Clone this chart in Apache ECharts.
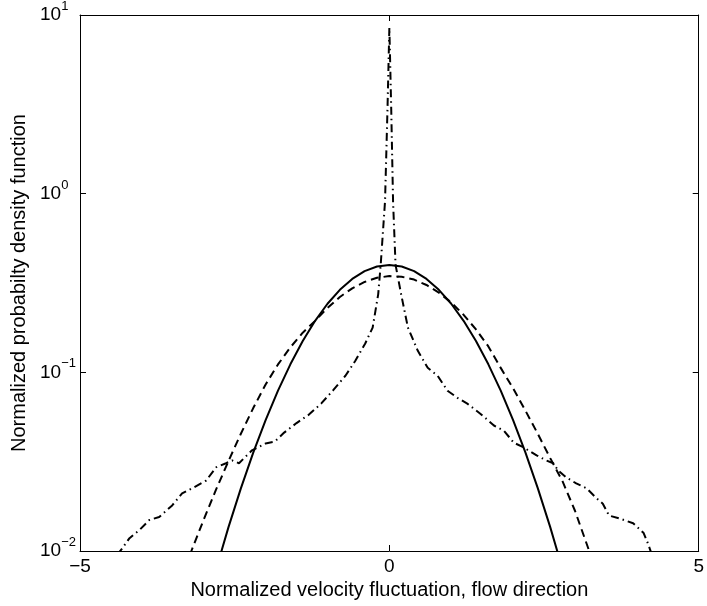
<!DOCTYPE html>
<html>
<head>
<meta charset="utf-8">
<script src="https://cdn.jsdelivr.net/npm/echarts@6/dist/echarts.min.js"></script>
<style>
html,body{margin:0;padding:0;background:#fff;}
#chart{width:707px;height:606px;}
</style>
</head>
<body>
<div id="chart"></div>
<script>
// Solid curve (Gaussian reference)
const solidX = [-2.8,-2.6,-2.4,-2.2,-2.0,-1.8,-1.6,-1.4,-1.2,-1.0,-0.8,-0.6,-0.4,-0.2,0.0,0.2,0.4,0.6,0.8,1.0,1.2,1.4,1.6,1.8,2.0,2.2,2.4,2.6,2.8];
const solidY = [0.0079,0.0136,0.0224,0.0355,0.0540,0.0790,0.1109,0.1497,0.1942,0.2420,0.2897,0.3332,0.3683,0.3910,0.3989,0.3910,0.3683,0.3332,0.2897,0.2420,0.1942,0.1497,0.1109,0.0790,0.0540,0.0355,0.0224,0.0136,0.0079];

// Dashed curve
const dashX = [-3.3,-3.2,-3.0,-2.8,-2.6,-2.4,-2.2,-2.0,-1.8,-1.6,-1.4,-1.2,-1.0,-0.8,-0.6,-0.4,-0.2,0.0,0.2,0.4,0.6,0.8,1.0,1.2,1.4,1.6,1.8,2.0,2.2,2.4,2.6,2.8,3.0,3.2,3.3];
const dashY = [0.0081,0.0100,0.0150,0.0221,0.0319,0.0453,0.0631,0.0855,0.1107,0.1380,0.1667,0.1941,0.2291,0.2642,0.2951,0.3206,0.3381,0.3459,0.3428,0.3304,0.3083,0.2793,0.2460,0.2099,0.1738,0.1396,0.1059,0.0813,0.0610,0.0452,0.0331,0.0245,0.0168,0.0107,0.0085];

// Dash-dot curve (measured, peaked)
const dotX = [-4.40,-4.33,-4.20,-4.04,-3.88,-3.72,-3.51,-3.35,-3.27,-3.18,-2.96,-2.80,-2.64,-2.54,-2.43,-2.22,-2.00,-1.85,-1.70,-1.50,-1.30,-1.10,-0.90,-0.71,-0.55,-0.39,-0.27,-0.18,-0.14,-0.07,-0.03,0.00,0.03,0.06,0.10,0.19,0.30,0.46,0.62,0.78,0.94,1.10,1.26,1.47,1.69,1.85,2.01,2.17,2.38,2.54,2.65,2.73,2.86,3.02,3.19,3.35,3.45,3.55,3.72,3.94,4.11,4.18,4.24];
const dotY = [0.0095,0.0102,0.0118,0.0131,0.0149,0.0155,0.0180,0.0210,0.0217,0.0225,0.0248,0.0294,0.0310,0.0321,0.0310,0.0366,0.0400,0.0410,0.0460,0.0520,0.0580,0.0670,0.0800,0.0957,0.1160,0.1450,0.1780,0.2740,0.4000,0.9060,3.0000,8.5000,3.0000,0.9000,0.4000,0.2740,0.1780,0.1320,0.1060,0.0957,0.0789,0.0720,0.0668,0.0587,0.0504,0.0472,0.0404,0.0380,0.0343,0.0321,0.0310,0.0282,0.0258,0.0239,0.0224,0.0197,0.0184,0.0158,0.0152,0.0143,0.0126,0.0110,0.0096];

const xTicks = [-5, 0, 5];
const yTicks = [0.01, 0.1, 1, 10];

const xLabel = 'Normalized velocity fluctuation, flow direction';
const yLabel = 'Normalized probabilty density function';

function zip(a, b) { return a.map((v, i) => [v, b[i]]); }

const FONT = '"Liberation Sans", Arial, Helvetica, sans-serif';

const chart = echarts.init(document.getElementById('chart'), null, {renderer: 'canvas'});

const axisLineStyle = {show: true, onZero: false, lineStyle: {color: '#000', width: 1}};
const tickStyle = {show: true, inside: true, length: 6, lineStyle: {color: '#000', width: 1}};

chart.setOption({
  animation: false,
  backgroundColor: '#fff',
  grid: {left: 80, right: 4, top: 13, bottom: 55, containLabel: false},
  xAxis: [{
    type: 'value', min: xTicks[0], max: xTicks[xTicks.length - 1], interval: 5,
    position: 'bottom',
    axisLine: axisLineStyle, axisTick: tickStyle, splitLine: {show: false},
    axisLabel: {
      color: '#000', fontSize: 19, fontFamily: FONT, margin: 6,
      formatter: v => (v < 0 ? '\u2212' + Math.abs(v) : String(v))
    },
    name: xLabel, nameLocation: 'middle', nameGap: 25,
    nameTextStyle: {color: '#000', fontSize: 20, fontFamily: FONT}
  }, {
    type: 'value', min: -5, max: 5, interval: 5, position: 'top',
    axisLine: axisLineStyle, axisTick: tickStyle, splitLine: {show: false},
    axisLabel: {show: false}
  }],
  yAxis: [{
    type: 'log', logBase: 10, min: yTicks[0], max: yTicks[yTicks.length - 1],
    position: 'left',
    axisLine: axisLineStyle, axisTick: tickStyle, splitLine: {show: false},
    minorTick: {show: false},
    axisLabel: {
      color: '#000', fontFamily: FONT, align: 'left', margin: 40,
      formatter: v => {
        const e = Math.round(Math.log10(v));
        return '{b|10}{s|' + (e < 0 ? '\u2212' + (-e) : e) + '}';
      },
      rich: {
        b: {fontSize: 19, fontFamily: FONT, color: '#000', lineHeight: 30, verticalAlign: 'middle'},
        s: {fontSize: 13, fontFamily: FONT, color: '#000', lineHeight: 13, verticalAlign: 'top'}
      }
    },
    name: yLabel, nameLocation: 'middle', nameGap: 48, nameRotate: 90,
    nameTextStyle: {color: '#000', fontSize: 20, fontFamily: FONT}
  }, {
    type: 'log', logBase: 10, min: 0.01, max: 10, position: 'right',
    axisLine: axisLineStyle, axisTick: tickStyle, splitLine: {show: false},
    axisLabel: {show: false}
  }],
  series: [{
    type: 'line', xAxisIndex: 0, yAxisIndex: 0, data: zip(dotX, dotY),
    symbol: 'none', clip: true,
    lineStyle: {color: '#000', width: 2, type: [8, 4, 1.5, 4]}
  }, {
    type: 'line', xAxisIndex: 0, yAxisIndex: 0, data: zip(dashX, dashY),
    symbol: 'none', clip: true,
    lineStyle: {color: '#000', width: 2, type: [8, 5]}
  }, {
    type: 'line', xAxisIndex: 0, yAxisIndex: 0, data: zip(solidX, solidY),
    symbol: 'none', clip: true,
    lineStyle: {color: '#000', width: 2, type: 'solid'}
  }]
});
</script>
</body>
</html>
